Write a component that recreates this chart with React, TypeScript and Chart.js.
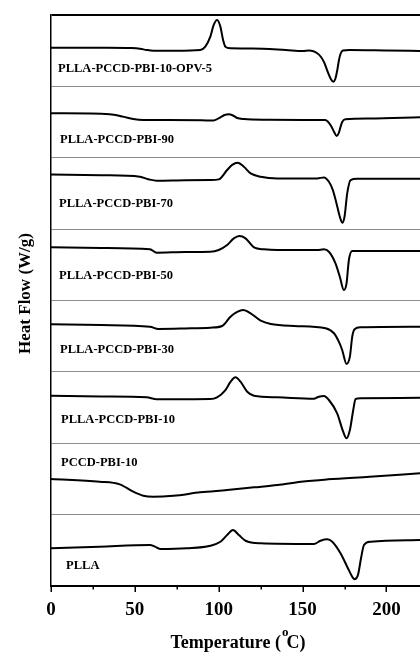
import React, { useEffect, useRef } from "react";
import { Chart, registerables } from "chart.js";

Chart.register(...registerables);

// DSC heating traces, stacked one per panel (endotherm pointing down).
// Heat flow is given in panel heights; the axis carries no numeric scale.
const seriesNames = [
  "PLLA-PCCD-PBI-10-OPV-5",
  "PLLA-PCCD-PBI-90",
  "PLLA-PCCD-PBI-70",
  "PLLA-PCCD-PBI-50",
  "PLLA-PCCD-PBI-30",
  "PLLA-PCCD-PBI-10",
  "PCCD-PBI-10",
  "PLLA",
];

const opv5Temp = [0, 30, 48, 53, 57, 61, 75, 89, 92, 95, 97, 99, 101, 102.6, 104, 107, 120, 140, 150, 154, 156, 158.5, 161, 163, 165, 167, 168.3, 169.5, 170.7, 171.7, 172.6, 174, 178, 200, 220];
const opv5Flow = [0.542, 0.54, 0.536, 0.528, 0.51, 0.5, 0.5, 0.51, 0.556, 0.696, 0.86, 0.93, 0.836, 0.65, 0.556, 0.534, 0.531, 0.51, 0.496, 0.503, 0.496, 0.468, 0.412, 0.328, 0.202, 0.097, 0.066, 0.104, 0.23, 0.37, 0.454, 0.503, 0.51, 0.503, 0.496];

const pbi90Temp = [0, 35, 43, 49, 55, 70, 90, 97, 101, 103.5, 106, 108.5, 111, 115, 130, 150, 163.5, 165, 167, 168.8, 170.3, 171.6, 172.6, 173.6, 175.5, 190, 220];
const pbi90Flow = [0.623, 0.609, 0.576, 0.543, 0.529, 0.529, 0.525, 0.522, 0.567, 0.599, 0.609, 0.592, 0.557, 0.543, 0.533, 0.529, 0.529, 0.508, 0.445, 0.361, 0.305, 0.347, 0.431, 0.501, 0.539, 0.55, 0.567];

const pbi70Temp = [0, 30, 53, 58, 63, 80, 95, 100, 105, 108, 111.3, 115, 119, 125, 135, 158.7, 162.7, 165.7, 168, 170, 172.2, 173.6, 175, 176.6, 178.6, 182.6, 220];
const pbi70Flow = [0.767, 0.755, 0.734, 0.7, 0.678, 0.685, 0.688, 0.697, 0.828, 0.9, 0.93, 0.874, 0.781, 0.734, 0.711, 0.711, 0.725, 0.664, 0.55, 0.38, 0.174, 0.09, 0.174, 0.501, 0.688, 0.706, 0.706];

const pbi50Temp = [0, 30, 59, 63, 80, 95, 100, 105, 109, 112.3, 116, 121, 127, 135, 158.7, 162.7, 165.7, 169.6, 172.2, 174.6, 176.2, 177.6, 179.6, 190, 220];
const pbi50Flow = [0.745, 0.735, 0.717, 0.67, 0.68, 0.683, 0.707, 0.777, 0.87, 0.903, 0.871, 0.745, 0.717, 0.707, 0.707, 0.717, 0.683, 0.521, 0.333, 0.147, 0.241, 0.567, 0.693, 0.693, 0.693];

const pbi30Temp = [0, 30, 59, 64, 80, 95, 102, 107, 111, 114.5, 119, 125, 131, 145, 163.7, 168.7, 171.6, 173.6, 176.2, 178.2, 179.6, 181, 184.6, 220];
const pbi30Flow = [0.667, 0.655, 0.633, 0.601, 0.608, 0.619, 0.643, 0.773, 0.84, 0.867, 0.821, 0.717, 0.671, 0.643, 0.611, 0.541, 0.423, 0.307, 0.111, 0.213, 0.493, 0.597, 0.625, 0.633];

const pbi10Temp = [0, 30, 57, 63, 80, 95, 99, 104, 107, 110, 113, 117, 121, 135, 156.7, 159.7, 162.7, 165.7, 170.6, 174.2, 176.2, 178.2, 180.2, 181.6, 184.6, 220];
const pbi10Flow = [0.666, 0.656, 0.644, 0.616, 0.618, 0.62, 0.644, 0.746, 0.86, 0.924, 0.862, 0.722, 0.666, 0.644, 0.624, 0.652, 0.662, 0.606, 0.419, 0.162, 0.069, 0.186, 0.466, 0.62, 0.63, 0.638];

const pccdTemp = [0, 29, 41, 49, 55, 61, 73, 89, 105, 121, 135, 149, 165, 190, 220];
const pccdFlow = [0.499, 0.461, 0.424, 0.321, 0.265, 0.251, 0.265, 0.312, 0.345, 0.382, 0.415, 0.461, 0.494, 0.531, 0.578];

const pllaTemp = [0, 29, 59, 62, 65, 81, 95, 101, 105, 108.5, 112, 116, 125, 156.7, 160.7, 164.7, 167.7, 172.6, 176.6, 179.6, 181, 183, 185, 186.6, 190.6, 220];
const pllaFlow = [0.528, 0.551, 0.574, 0.551, 0.518, 0.528, 0.564, 0.62, 0.714, 0.784, 0.714, 0.634, 0.598, 0.588, 0.634, 0.654, 0.62, 0.458, 0.27, 0.13, 0.094, 0.154, 0.41, 0.574, 0.62, 0.644];

const temps = [opv5Temp, pbi90Temp, pbi70Temp, pbi50Temp, pbi30Temp, pbi10Temp, pccdTemp, pllaTemp];
const flows = [opv5Flow, pbi90Flow, pbi70Flow, pbi50Flow, pbi30Flow, pbi10Flow, pccdFlow, pllaFlow];

// Temperature axis
const tempMin = 0;
const tempMax = 220;
const majorTicks = [0, 50, 100, 150, 200];
const minorTicks = [25, 75, 125, 175];

// Where each sample name sits inside its panel (temperature, panel height)
const nameAnchorT = [4.2, 5.4, 4.8, 4.8, 5.4, 6, 6, 9];
const nameAnchorH = [0.25, 0.248, 0.353, 0.349, 0.313, 0.332, 0.733, 0.286];

const panelCount = seriesNames.length;
const panelOffset = (i: number) => panelCount - 1 - i;

const SERIF = '"Liberation Serif", "Times New Roman", serif';

const decorations = {
  id: "decorations",
  afterDraw(chart: any) {
    const { ctx, chartArea, scales } = chart;
    const xs = scales.x;
    const ys = scales.y;
    ctx.save();

    // outward tick marks on the temperature axis
    ctx.strokeStyle = "#000";
    ctx.lineWidth = 1.5;
    const drawTick = (v: number, len: number) => {
      const px = Math.round(xs.getPixelForValue(v)) + 0.25;
      ctx.beginPath();
      ctx.moveTo(px, chartArea.bottom);
      ctx.lineTo(px, chartArea.bottom + len);
      ctx.stroke();
    };
    majorTicks.forEach((v) => drawTick(v, 6));
    minorTicks.forEach((v) => drawTick(v, 3.5));

    // sample names
    ctx.fillStyle = "#000";
    ctx.font = `bold 12.5px ${SERIF}`;
    ctx.textAlign = "left";
    ctx.textBaseline = "middle";
    seriesNames.forEach((name, i) => {
      ctx.fillText(
        name,
        xs.getPixelForValue(nameAnchorT[i]),
        ys.getPixelForValue(panelOffset(i) + nameAnchorH[i])
      );
    });

    // x axis title with superscript degree mark
    const bigFont = `bold 18px ${SERIF}`;
    const smallFont = `bold 13px ${SERIF}`;
    ctx.textBaseline = "alphabetic";
    ctx.font = bigFont;
    const part1 = "Temperature (";
    const part3 = "C)";
    const w1 = ctx.measureText(part1).width;
    const w3 = ctx.measureText(part3).width;
    ctx.font = smallFont;
    const w2 = ctx.measureText("o").width;
    const total = w1 + w2 + w3;
    const cx = (chartArea.left + chartArea.right) / 2 + 3;
    let tx = cx - total / 2;
    const baseY = chartArea.bottom + 62;
    ctx.font = bigFont;
    ctx.fillText(part1, tx, baseY);
    tx += w1;
    ctx.font = smallFont;
    ctx.fillText("o", tx + 1, baseY - 12);
    tx += w2 - 1;
    ctx.font = bigFont;
    ctx.fillText(part3, tx, baseY);

    // y axis title
    ctx.save();
    ctx.translate(29.5, (chartArea.top + chartArea.bottom) / 2 - 7);
    ctx.rotate(-Math.PI / 2);
    ctx.font = `bold 17px ${SERIF}`;
    ctx.textAlign = "center";
    ctx.textBaseline = "alphabetic";
    ctx.fillText("Heat Flow (W/g)", 0, 0);
    ctx.restore();

    ctx.restore();
  },
};

export default function App() {
  const canvasRef = useRef<HTMLCanvasElement | null>(null);

  useEffect(() => {
    const canvas = canvasRef.current;
    if (!canvas) return;

    const datasets = seriesNames.map((name, i) => ({
      label: name,
      data: temps[i].map((t, k) => ({ x: t, y: panelOffset(i) + flows[i][k] })),
      borderColor: "#000",
      borderWidth: 2,
      pointRadius: 0,
      fill: false,
      cubicInterpolationMode: "monotone" as const,
    }));

    const chart = new Chart(canvas, {
      type: "line",
      data: { datasets },
      options: {
        responsive: false,
        animation: false,
        devicePixelRatio: 1,
        layout: { padding: { top: 15, right: 0, left: 0, bottom: 0 } },
        plugins: {
          legend: { display: false },
          tooltip: { enabled: false },
          title: { display: false },
        },
        scales: {
          x: {
            type: "linear",
            min: tempMin,
            max: tempMax,
            afterFit: (scale: any) => {
              scale.height = 66;
            },
            ticks: {
              stepSize: 50,
              includeBounds: false,
              color: "#000",
              padding: 7,
              maxRotation: 0,
              font: { family: SERIF, size: 19, weight: "bold" },
            },
            grid: {
              display: true,
              drawOnChartArea: false,
              drawTicks: true,
              tickLength: 6,
              color: "rgba(0,0,0,0)",
            },
            border: { display: true, color: "#000", width: 2 },
          },
          y: {
            type: "linear",
            min: 0,
            max: panelCount,
            afterFit: (scale: any) => {
              scale.width = 51;
            },
            ticks: { display: false, stepSize: 1 },
            grid: {
              drawTicks: false,
              color: (c: any) =>
                c.tick.value === panelCount ? "#000" : c.tick.value === 0 ? "rgba(0,0,0,0)" : "#8c8c8c",
              lineWidth: (c: any) => (c.tick.value === panelCount ? 2 : 1),
            },
            border: { display: true, color: "#000", width: 1.5 },
          },
        },
      },
      plugins: [decorations],
    });

    return () => chart.destroy();
  }, []);

  return (
    <div style={{ position: "fixed", left: 0, top: 0, width: 420, height: 652, background: "#fff" }}>
      <canvas ref={canvasRef} width={420} height={652} style={{ display: "block", width: 420, height: 652 }} />
    </div>
  );
}
